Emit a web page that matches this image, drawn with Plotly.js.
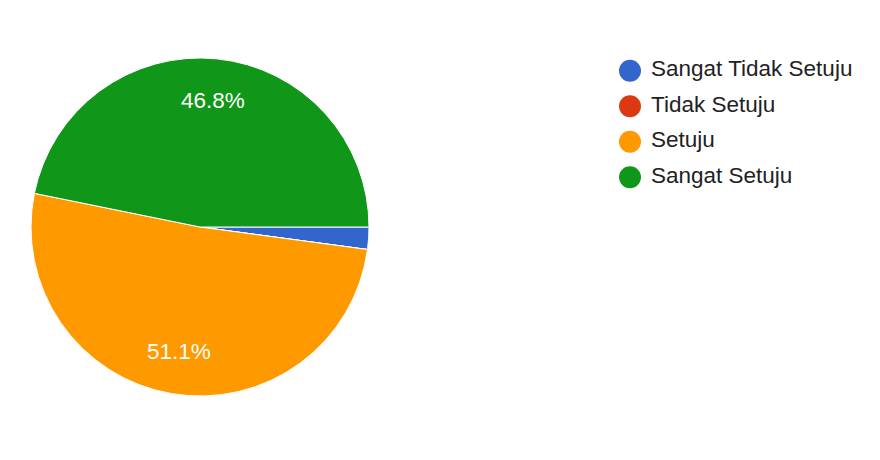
<!DOCTYPE html>
<html>
<head>
<meta charset="utf-8">
<script src="https://cdn.plot.ly/plotly-3.0.1.min.js"></script>
<style>html,body{margin:0;padding:0;background:#fff;}#chart{width:880px;height:460px;}</style>
</head>
<body>
<div id="chart"></div>
<script>
const categories = ["Sangat Tidak Setuju", "Tidak Setuju", "Setuju", "Sangat Setuju"];
const counts = [1, 0, 24, 22];
const colors = ["#3366cc", "#dc3912", "#ff9900", "#109618"];

const total = counts.reduce((a, b) => a + b, 0);
const FONT = "Liberation Sans, Arial, sans-serif";

// pie geometry (layout)
const W = 880, H = 460;
const CX = 200, CY = 227, R = 169;

const pie = {
  type: "pie",
  labels: categories,
  values: counts,
  sort: false,
  direction: "clockwise",
  rotation: 90,
  marker: { colors: colors, line: { color: "#ffffff", width: 1 } },
  textinfo: "none",
  domain: { x: [(CX - R) / W, (CX + R) / W], y: [(H - CY - R) / H, (H - CY + R) / H] },
  showlegend: false,
  hoverinfo: "skip"
};

// percentage labels placed at 0.75 radius of each slice's mid-angle (from the data)
const annotations = [];
let cum = 0;
counts.forEach((v, i) => {
  const frac = v / total;
  const mid = (cum + frac / 2) * 2 * Math.PI; // clockwise from 3 o'clock
  cum += frac;
  if (frac <= 0.05) return;
  const px = CX + 0.75 * R * Math.cos(mid);
  const py = CY + 0.75 * R * Math.sin(mid);
  annotations.push({
    xref: "paper", yref: "paper",
    x: px / W, y: 1 - py / H,
    xanchor: "center", yanchor: "middle",
    text: (frac * 100).toFixed(1) + "%",
    showarrow: false,
    font: { family: FONT, size: 22.5, color: "#ffffff" }
  });
});

// custom legend with round markers (x axis in pixel units)
const legendMarkers = {
  type: "scatter",
  mode: "markers",
  x: categories.map(() => 11),
  y: categories.map((_, i) => i),
  marker: { color: colors, size: 22 },
  cliponaxis: false,
  showlegend: false,
  hoverinfo: "skip"
};
const legendText = {
  type: "scatter",
  mode: "text",
  x: categories.map(() => 32),
  y: categories.map((_, i) => i),
  text: categories,
  textposition: "middle right",
  textfont: { family: FONT, size: 22.5, color: "#222222" },
  cliponaxis: false,
  showlegend: false,
  hoverinfo: "skip"
};

const layout = {
  width: W,
  height: H,
  margin: { l: 0, r: 0, t: 0, b: 0 },
  paper_bgcolor: "#ffffff",
  plot_bgcolor: "rgba(0,0,0,0)",
  showlegend: false,
  xaxis: { domain: [619 / W, 1], range: [0, 261], visible: false, fixedrange: true },
  yaxis: { domain: [(H - 195) / H, (H - 53) / H], range: [3.5, -0.5], visible: false, fixedrange: true },
  font: { family: FONT },
  annotations: annotations
};

Plotly.newPlot("chart", [pie, legendMarkers, legendText], layout, { displayModeBar: false, staticPlot: true });
</script>
</body>
</html>
